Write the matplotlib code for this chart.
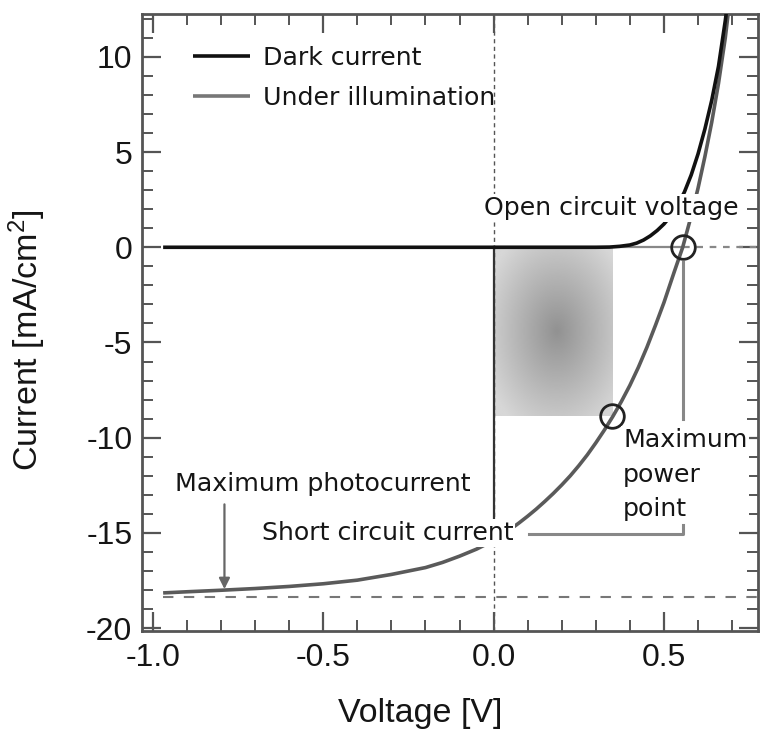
import numpy as np
import matplotlib
matplotlib.use("Agg")
import matplotlib.pyplot as plt
from matplotlib.ticker import MultipleLocator

# ---------------- data ----------------
dark_v = [-0.97, -0.5, 0.0, 0.30, 0.34, 0.37, 0.40, 0.42, 0.44, 0.46, 0.48, 0.50, 0.52,
          0.54, 0.56, 0.58, 0.60, 0.62, 0.64, 0.66, 0.68, 0.69]
dark_j = [0.0, 0.0, 0.0, 0.0, 0.01, 0.05, 0.12, 0.22, 0.38, 0.60, 0.88, 1.22, 1.65,
          2.20, 2.90, 3.80, 4.90, 6.20, 7.70, 9.50, 11.90, 13.30]

light_v = [-0.97, -0.90, -0.80, -0.70, -0.60, -0.50, -0.40, -0.30, -0.20, -0.15, -0.10, -0.05,
           0.00, 0.025, 0.05, 0.075, 0.10, 0.125, 0.15, 0.175, 0.20, 0.225, 0.25, 0.275,
           0.30, 0.325, 0.35, 0.375, 0.40, 0.425, 0.45, 0.475, 0.50, 0.53, 0.555, 0.58,
           0.60, 0.62, 0.64, 0.66, 0.68, 0.70]
light_j = [-18.15, -18.09, -18.01, -17.92, -17.81, -17.67, -17.48, -17.18, -16.82, -16.55, -16.22, -15.85,
           -15.40, -15.11, -14.80, -14.47, -14.12, -13.75, -13.35, -12.93, -12.48, -12.00, -11.47, -10.90,
           -10.27, -9.60, -8.88, -8.10, -7.25, -6.30, -5.25, -4.10, -2.90, -1.30, 0.0, 1.65,
           3.10, 4.75, 6.55, 8.60, 11.00, 14.00]

v_oc = 0.555          # open circuit voltage
j_sc = -15.40         # short circuit current
v_mpp, j_mpp = 0.348, -8.88   # maximum power point
j_photo = -18.38      # maximum photocurrent level
v_arrow = -0.79

legend_labels = ["Dark current", "Under illumination"]
x_ticks = [-1.0, -0.5, 0.0, 0.5]
x_ticklabels = ["-1.0", "-0.5", "0.0", "0.5"]
y_ticks = [-20, -15, -10, -5, 0, 5, 10]
y_ticklabels = ["-20", "-15", "-10", "-5", "0", "5", "10"]

# ---------------- styling ----------------
plt.rcParams['mathtext.fontset'] = 'custom'
plt.rcParams['mathtext.rm'] = 'Liberation Sans'
plt.rcParams['mathtext.it'] = 'Liberation Sans'
TXT = '#151515'
SPINE = '#555555'
ANN_FONT = 'DejaVu Sans'
ANN_SIZE = 18.2
AX_FONT = 'Liberation Sans'

fig = plt.figure(figsize=(7.62, 7.35), dpi=100)
ax = fig.add_axes([142/762, 1-631/735, 616/762, 617/735])

xlim = (-1.032, 0.776)
ylim = (-20.15, 12.25)

# shaded power rectangle with radial gradient
nx, ny = 200, 200
gx = np.linspace(0, 1, nx)
gy = np.linspace(0, 1, ny)
GX, GY = np.meshgrid(gx, gy)
r = np.sqrt(((GX - 0.53) / 0.5) ** 2 + ((GY - 0.5) / 0.5) ** 2)
grad = np.clip(0.57 + 0.21 * r, 0, 0.84)
ax.imshow(grad, cmap='gray', vmin=0, vmax=1, extent=[0, v_mpp, j_mpp, 0],
          origin='lower', aspect='auto', zorder=1, interpolation='bilinear')

# reference lines
ax.axvline(0, color='#555555', lw=1.0, ls=(0, (3, 2.5)), zorder=2)
ax.plot([0, 0], [0, j_sc], color='#333333', lw=1.6, zorder=2)
ax.plot([0, v_oc], [0, 0], color='#888888', lw=1.6, zorder=2)
ax.plot([v_oc, xlim[1]], [0, 0], color='#888888', lw=1.6, ls=(0, (3, 3)), zorder=2)
ax.plot([light_v[0], xlim[1]], [j_photo, j_photo], color='#777777', lw=1.5,
        ls=(0, (5, 5)), zorder=2)

# curves
l_dark, = ax.plot(dark_v, dark_j, color='#111111', lw=2.6, zorder=5,
                  solid_capstyle='butt', solid_joinstyle='round')
l_light, = ax.plot(light_v, light_j, color='#5a5a5a', lw=2.6, zorder=4,
                   solid_capstyle='butt', solid_joinstyle='round')

# circles
ax.plot([v_oc, v_mpp], [0, j_mpp], 'o', ms=17, mfc='none', mec='#222222', mew=2.0, zorder=6)

# MPP pointer lines
ax.plot([v_oc, v_oc], [-0.75, -9.0], color='#888888', lw=2.2, zorder=3)
ax.plot([0.105, v_oc, v_oc], [-15.07, -15.07, -14.6], color='#888888', lw=2.2, zorder=3)

# arrow for maximum photocurrent
ax.annotate('', xy=(v_arrow, -17.95), xytext=(v_arrow, -13.5),
            arrowprops=dict(arrowstyle='-|>', color='#666666', lw=1.6,
                            mutation_scale=16, shrinkA=0, shrinkB=0), zorder=3)

# annotations
bbox = dict(boxstyle='square,pad=0.08', fc='white', ec='none')
ax.text(0.346, 2.05, "Open circuit voltage", ha='center', va='center', fontsize=ANN_SIZE,
        family=ANN_FONT, color=TXT, bbox=bbox, zorder=7)
ax.text(-0.311, -15.0, "Short circuit current", ha='center', va='center', fontsize=ANN_SIZE,
        family=ANN_FONT, color=TXT, bbox=bbox, zorder=7)
ax.text(-0.50, -12.45, "Maximum photocurrent", ha='center', va='center', fontsize=ANN_SIZE,
        family=ANN_FONT, color=TXT, zorder=7)
ax.text(0.380, -9.50, "Maximum\npower\npoint", ha='left', va='top', fontsize=ANN_SIZE,
        family=ANN_FONT, color=TXT, linespacing=1.55, bbox=bbox, zorder=7)

# legend
leg = ax.legend([l_dark, l_light], legend_labels, loc='upper left',
                bbox_to_anchor=((193-142)/616, (631-46)/617), frameon=False,
                borderaxespad=0, borderpad=0, handlelength=2.25, handletextpad=0.5,
                labelspacing=0.62, prop={'family': ANN_FONT, 'size': ANN_SIZE})
for t in leg.get_texts():
    t.set_color(TXT)
leg.get_lines()[1].set_color('#777777')

# axes formatting
ax.set_xlim(*xlim)
ax.set_ylim(*ylim)
ax.set_xticks(x_ticks)
ax.set_xticklabels(x_ticklabels)
ax.set_yticks(y_ticks)
ax.set_yticklabels(y_ticklabels)
ax.xaxis.set_minor_locator(MultipleLocator(0.1))
ax.yaxis.set_minor_locator(MultipleLocator(1))
ax.tick_params(which='both', direction='in', top=True, right=True, color=SPINE)
ax.tick_params(which='major', length=14, width=1.6, labelsize=23, labelcolor=TXT)
ax.tick_params(which='minor', length=8, width=1.4)
ax.tick_params(axis='x', which='major', pad=9)
ax.tick_params(axis='y', which='major', pad=7)
for lab in ax.get_xticklabels() + ax.get_yticklabels():
    lab.set_family(AX_FONT)
for s in ax.spines.values():
    s.set_color(SPINE)
    s.set_linewidth(2.0)

ax.set_xlabel("Voltage [V]", fontsize=24.5, family=AX_FONT, color=TXT)
ax.set_ylabel("Current [mA/cm$^2$]", fontsize=24.5, family=AX_FONT, color=TXT)
ax.xaxis.set_label_coords((420-142)/616, -(698-631)/617)
ax.yaxis.set_label_coords(-(142-48)/616, (631-340)/617)

fig.savefig("out.png", dpi=100)
